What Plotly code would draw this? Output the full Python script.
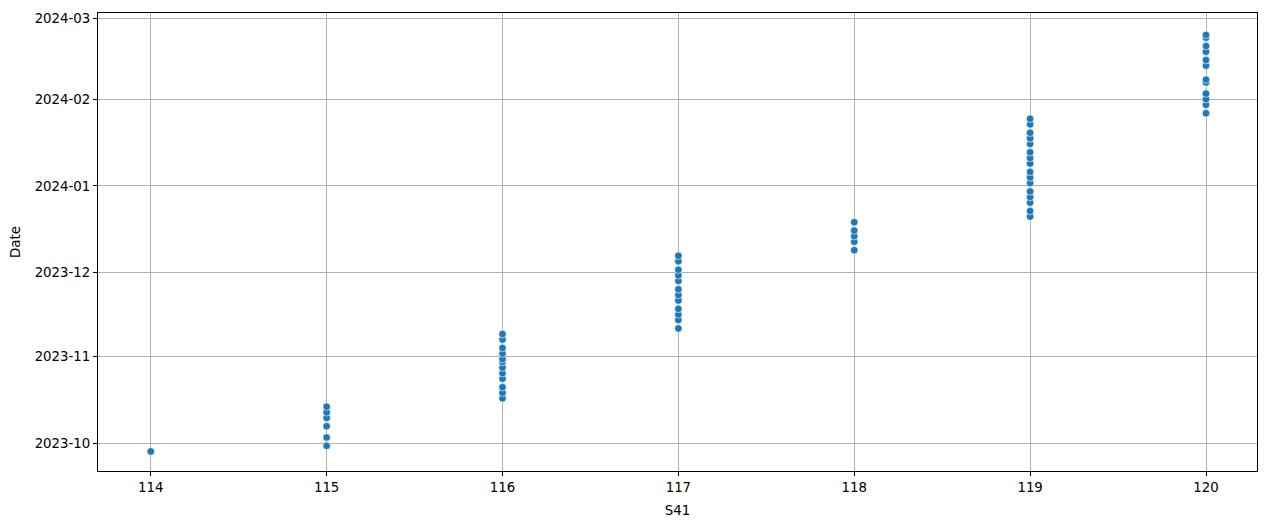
import plotly.graph_objects as go

s41_114 = ["2023-09-28"]
s41_115 = ["2023-09-30", "2023-10-03", "2023-10-07", "2023-10-10", "2023-10-12", "2023-10-14"]
s41_116 = ["2023-10-17", "2023-10-19", "2023-10-21", "2023-10-24", "2023-10-26", "2023-10-28",
           "2023-10-30", "2023-10-31", "2023-11-02", "2023-11-04", "2023-11-07", "2023-11-09"]
s41_117 = ["2023-11-11", "2023-11-14", "2023-11-16", "2023-11-18", "2023-11-21", "2023-11-23",
           "2023-11-25", "2023-11-28", "2023-11-30", "2023-12-02", "2023-12-05", "2023-12-07"]
s41_118 = ["2023-12-09", "2023-12-12", "2023-12-14", "2023-12-16", "2023-12-19"]
s41_119 = ["2023-12-21", "2023-12-23", "2023-12-26", "2023-12-28", "2023-12-30", "2024-01-02",
           "2024-01-04", "2024-01-06", "2024-01-09", "2024-01-11", "2024-01-13", "2024-01-16",
           "2024-01-18", "2024-01-20", "2024-01-23", "2024-01-25"]
s41_120 = ["2024-01-27", "2024-01-30", "2024-02-01", "2024-02-03", "2024-02-07", "2024-02-08",
           "2024-02-13", "2024-02-15", "2024-02-18", "2024-02-20", "2024-02-23", "2024-02-24"]

groups = {114: s41_114, 115: s41_115, 116: s41_116, 117: s41_117,
          118: s41_118, 119: s41_119, 120: s41_120}

xs, ys = [], []
for k, v in groups.items():
    xs += [k] * len(v)
    ys += v

x_ticks = [114, 115, 116, 117, 118, 119, 120]
y_ticks = ["2023-10-01", "2023-11-01", "2023-12-01", "2024-01-01", "2024-02-01", "2024-03-01"]
y_tick_labels = ["2023-10", "2023-11", "2023-12", "2024-01", "2024-02", "2024-03"]

fig = go.Figure(go.Scatter(
    x=xs, y=ys, mode="markers",
    marker=dict(color="#1f77b4", size=7.5, line=dict(color="white", width=0.6)),
    showlegend=False,
))

font = dict(family="DejaVu Sans", size=13.33, color="black")
fig.update_layout(
    width=1253, height=510,
    margin=dict(l=89, r=3, t=3, b=47),
    paper_bgcolor="white", plot_bgcolor="white",
    font=font,
    xaxis=dict(
        range=[113.7, 120.29], tickvals=x_ticks, ticktext=[str(t) for t in x_ticks],
        showgrid=True, gridcolor="#b0b0b0", gridwidth=0.8,
        showline=True, linecolor="black", linewidth=1, mirror=True,
        ticks="outside", ticklen=4, tickcolor="black", zeroline=False,
        ticklabeloverflow="allow",
        title=dict(text="S41", font=font, standoff=11),
    ),
    yaxis=dict(
        type="date", range=["2023-09-21", "2024-03-02 20:00"],
        tickvals=y_ticks, ticktext=y_tick_labels,
        showgrid=True, gridcolor="#b0b0b0", gridwidth=0.8,
        showline=True, linecolor="black", linewidth=1, mirror=True,
        ticks="outside", ticklen=4, tickcolor="black", zeroline=False,
        ticklabeloverflow="allow",
        title=dict(text="Date", font=font, standoff=14),
    ),
)

fig.write_html("out.html")
